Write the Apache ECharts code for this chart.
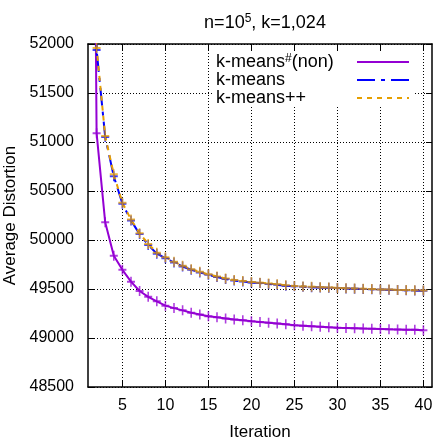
<!DOCTYPE html>
<html><head><meta charset="utf-8">
<script src="https://cdn.jsdelivr.net/npm/echarts@6/dist/echarts.min.js"></script>
<style>html,body{margin:0;padding:0;background:#fff}#c{width:436px;height:440px}</style>
</head><body><div id="c"></div>
<script>
const iterations = [1,2,3,4,5,6,7,8,9,10,11,12,13,14,15,16,17,18,19,20,21,22,23,24,25,26,27,28,29,30,31,32,33,34,35,36,37,38,39,40];
const kmeansNon = [62000,51090,50180,49840,49696,49575,49480,49420,49374,49330,49305,49282,49258,49240,49223,49211,49200,49189,49180,49171,49164,49156,49148,49140,49130,49126,49121,49116,49110,49105,49103,49100,49097,49095,49093,49090,49088,49085,49083,49080];
const kmeans = [63000,51940,51050,50650,50370,50200,50060,49950,49860,49815,49770,49730,49696,49669,49645,49622,49602,49587,49577,49567,49560,49552,49543,49534,49527,49523,49519,49515,49512,49509,49506,49503,49500,49497,49494,49492,49490,49487,49485,49483];
const kmeansPP = [63000,51960,51060,50670,50380,50210,50070,49960,49870,49825,49778,49738,49702,49676,49650,49628,49608,49593,49582,49572,49565,49556,49548,49538,49531,49526,49522,49518,49515,49511,49508,49505,49502,49499,49496,49494,49491,49489,49487,49485];
const xTickValues = [5,10,15,20,25,30,35,40];
const seriesNames = ['k-means#(non)','k-means','k-means++'];
const titleText = '{a|n=10}{s|5}{a|, k=1,024}';

const FONT = 'Liberation Sans';
const plus = 'path://M4,0H6V4H10V6H6V10H4V6H0V4H4Z';
function pairs(vals){ return iterations.map((it,i)=>[it, vals[i]]); }

const chart = echarts.init(document.getElementById('c'), null, {renderer:'canvas'});
const gridLine = {show:true, lineStyle:{color:'#000', type:[1,2], width:1}};
chart.setOption({
  animation:false,
  backgroundColor:'#fff',
  title:{
    text: titleText, left: 260, top: 8, textAlign:'center',
    textStyle:{fontFamily:FONT, fontSize:18, fontWeight:'normal', color:'#000',
      rich:{a:{fontFamily:FONT, fontSize:18, color:'#000', lineHeight:20},
            s:{fontSize:12, fontFamily:FONT, color:'#000', lineHeight:12, verticalAlign:'top'}}}
  },
  grid:{left:88, right:4, top:44, bottom:53, outerBoundsMode:'none', containLabel:false},
  legend:{
    orient:'vertical', right:23, top:52, align:'right', padding:[1,3,0,2],
    backgroundColor:'#fff',
    itemWidth:52, itemHeight:10, itemGap:0,
    data: seriesNames,
    itemStyle:{opacity:0},
    formatter: n => n === seriesNames[0] ? '{a|k-means}{s|#}{a|(non)}' : '{a|' + n + '}',
    textStyle:{fontFamily:FONT, fontSize:18, color:'#000', width:136, lineHeight:18,
      rich:{a:{fontFamily:FONT, fontSize:18, color:'#000', lineHeight:18, align:'left'},
            s:{fontFamily:FONT, fontSize:12, color:'#000', lineHeight:12, verticalAlign:'top', align:'left'}}}
  },
  xAxis:[{
    type:'value', min:1, max:41, position:'bottom',
    name:'Iteration', nameLocation:'middle', nameGap:37,
    nameTextStyle:{fontFamily:FONT, fontSize:17, color:'#000'},
    axisLine:{show:true, onZero:false, lineStyle:{color:'#000', width:1.5}},
    axisTick:{show:true, inside:true, length:6, customValues:xTickValues, lineStyle:{color:'#000'}},
    axisLabel:{fontFamily:FONT, fontSize:16, color:'#000', margin:11, customValues:xTickValues},
    splitLine:gridLine
  },{
    type:'value', min:1, max:41, position:'top',
    axisLine:{show:true, onZero:false, lineStyle:{color:'#000', width:1.5}},
    axisTick:{show:true, inside:true, length:6, customValues:xTickValues, lineStyle:{color:'#000'}},
    axisLabel:{show:false}, splitLine:{show:false}
  }],
  yAxis:[{
    type:'value', min:48500, max:52000, interval:500, position:'left',
    name:'Average Distortion', nameLocation:'middle', nameGap:64,
    nameTextStyle:{fontFamily:FONT, fontSize:17, color:'#000'},
    axisLine:{show:true, onZero:false, lineStyle:{color:'#000', width:1.5}},
    axisTick:{show:true, inside:true, length:6, lineStyle:{color:'#000'}},
    axisLabel:{fontFamily:FONT, fontSize:16, color:'#000', margin:14, formatter: v => String(v)},
    splitLine:gridLine
  },{
    type:'value', min:48500, max:52000, interval:500, position:'right',
    axisLine:{show:true, onZero:false, lineStyle:{color:'#000', width:1.5}},
    axisTick:{show:true, inside:true, length:6, lineStyle:{color:'#000'}},
    axisLabel:{show:false}, splitLine:{show:false}
  }],
  series:[
    {name:seriesNames[0], type:'line', data:pairs(kmeansNon), clip:true,
     symbol:plus, symbolSize:[8,10], color:'#9400d3',
     itemStyle:{color:'#9400d3', opacity:0.75},
     lineStyle:{color:'#9400d3', width:2, type:'solid'}},
    {name:seriesNames[1], type:'line', data:pairs(kmeans), clip:true,
     symbol:plus, symbolSize:[8,10], color:'#0000ff',
     itemStyle:{color:'#0000ff', opacity:0.75},
     lineStyle:{color:'#0000ff', width:2, type:[18,6,4,6]}},
    {name:seriesNames[2], type:'line', data:pairs(kmeansPP), clip:true,
     symbol:plus, symbolSize:[8,10], color:'#e69f00',
     itemStyle:{color:'#e69f00', opacity:0.75},
     lineStyle:{color:'#e69f00', width:2, type:[5,5]}}
  ]
});
</script></body></html>
